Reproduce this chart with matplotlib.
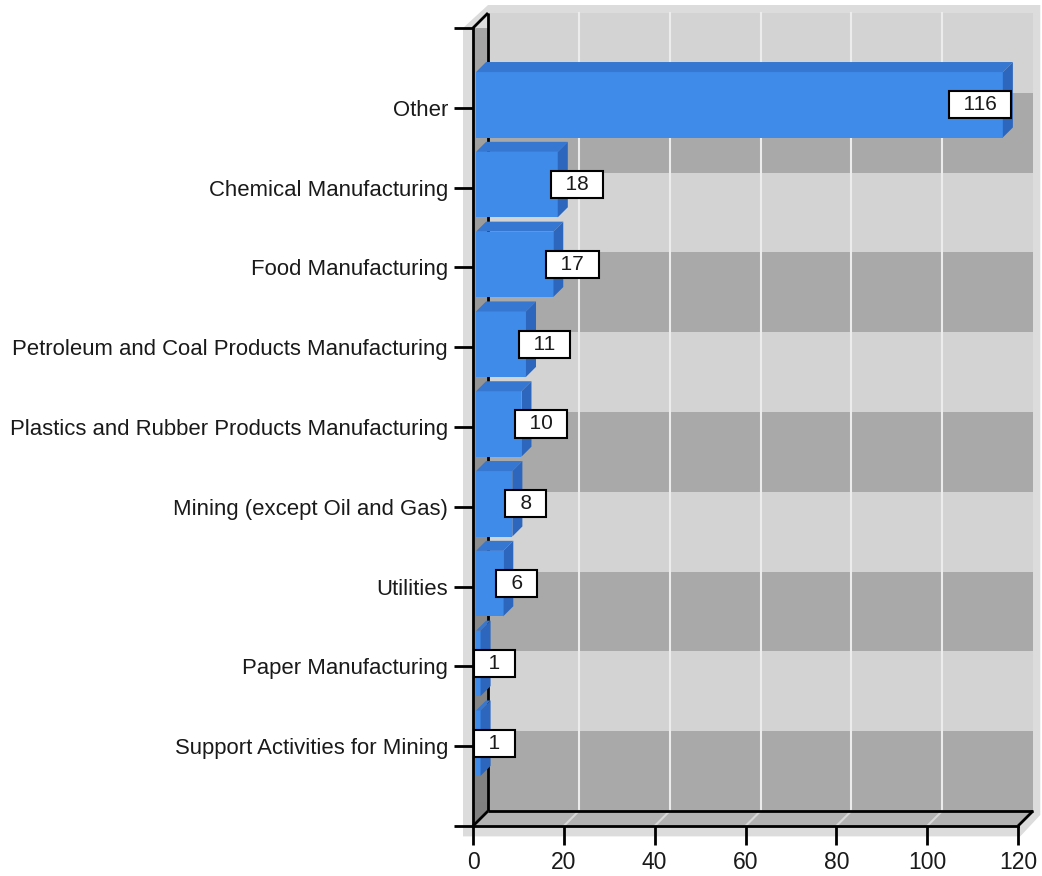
import numpy as np
import matplotlib.pyplot as plt
from matplotlib.colors import LinearSegmentedColormap
from matplotlib.patches import Polygon, Rectangle

categories = ['Support Activities for Mining', 'Paper Manufacturing', 'Utilities',
              'Mining (except Oil and Gas)', 'Plastics and Rubber Products Manufacturing',
              'Petroleum and Coal Products Manufacturing', 'Food Manufacturing',
              'Chemical Manufacturing', 'Other']
values = [1, 1, 6, 8, 10, 11, 17, 18, 116]
xticks = [0, 20, 40, 60, 80, 100, 120]

plt.rcParams['font.family'] = ['Liberation Sans', 'DejaVu Sans']

W, H = 1042, 876
fig = plt.figure(figsize=(W / 100, H / 100), dpi=100)
ax = fig.add_axes([473 / W, 50 / H, 545 / W, 798 / H])
xmax, ymax = 120, len(categories) + 1

# depth of the box, in data units
dx = 15 / (545 / xmax)
dy = 15 / (798 / ymax)

# soft frame behind the box
ax.add_patch(Polygon([(-2.2, -0.13), (-2.2, ymax), (dx, ymax + dy + 0.1),
                      (xmax + dx + 1.6, ymax + dy + 0.1), (xmax + dx + 1.6, dy - 0.05),
                      (xmax + 0.5, -0.13)],
                     closed=True, fc='#dcdcdc', ec='none', zorder=0, clip_on=False))

# back wall with alternating bands
for k in range(ymax):
    col = '#a9a9a9' if k % 2 == 0 else '#d3d3d3'
    ax.add_patch(Rectangle((dx, k + dy), xmax, 1, fc=col, ec='none', zorder=1, clip_on=False))
for t in xticks[1:-1]:
    ax.plot([t + dx, t + dx], [dy, ymax + dy], color='#ececec', lw=1.5, zorder=1.2, clip_on=False)
    ax.plot([t, t + dx], [0, dy], color='#d8d8d8', lw=1.5, zorder=1.6, clip_on=False)

# left wall (shaded top to bottom) and floor
wall = Polygon([(0, 0), (dx, dy), (dx, ymax + dy), (0, ymax)], closed=True,
               fc='none', ec='none', zorder=1.4, clip_on=False)
ax.add_patch(wall)
grad = np.linspace(0, 1, 256).reshape(-1, 1)
im = ax.imshow(grad, cmap=LinearSegmentedColormap.from_list('wall', ['#a6a6a6', '#808080']),
               extent=[0, dx, 0, ymax + dy], origin='upper', aspect='auto',
               zorder=1.4, interpolation='bilinear')
im.set_clip_path(wall)
ax.add_patch(Polygon([(0, 0), (xmax, 0), (xmax + dx, dy), (dx, dy)], closed=True,
                     fc='#b2b2b2', ec='none', zorder=1.4, clip_on=False))

# box edges
edge = dict(color='black', lw=2, zorder=2, clip_on=False, solid_capstyle='butt')
ax.plot([dx, dx], [dy, ymax + dy], **edge)
ax.plot([dx, xmax + dx], [dy, dy], **edge)
ax.plot([0, dx], [ymax, ymax + dy], **edge)
ax.plot([0, dx], [0, dy], **edge)
ax.plot([xmax, xmax + dx], [0, dy], **edge)

# 3d bars
f0, f1, h = 0.2, 0.87, 0.41
ox0, oy0, ox1, oy1 = f0 * dx, f0 * dy, f1 * dx, f1 * dy
for i, v in enumerate(values):
    c = i + 1
    ax.add_patch(Rectangle((ox0, c - h + oy0), v, 2 * h, fc='#3f8bea', ec='none', zorder=3))
    ax.add_patch(Polygon([(ox0, c + h + oy0), (v + ox0, c + h + oy0),
                          (v + ox1, c + h + oy1), (ox1, c + h + oy1)], closed=True,
                         fc='#3677d2', ec='none', zorder=3, clip_on=False))
    ax.add_patch(Polygon([(v + ox0, c - h + oy0), (v + ox1, c - h + oy1),
                          (v + ox1, c + h + oy1), (v + ox0, c + h + oy0)], closed=True,
                         fc='#2d66bd', ec='none', zorder=3, clip_on=False))

    label = '\u2002' + str(v) + '\u2002'
    box = dict(boxstyle='square,pad=0.2', fc='white', ec='black', lw=1.5)
    if v > 100:
        ax.text(xmax - 2.4, c + oy0, label, ha='right', va='center', fontsize=15,
                color='#1a1a1a', bbox=box, zorder=5)
    else:
        ax.text(v + ox0 - 0.6, c + oy0, label, ha='left', va='center', fontsize=15,
                color='#1a1a1a', bbox=box, zorder=5, clip_on=False)

ax.set_xlim(0, xmax)
ax.set_ylim(0, ymax)
for s in ['top', 'right']:
    ax.spines[s].set_visible(False)
for s in ['left', 'bottom']:
    ax.spines[s].set_linewidth(2)
    ax.spines[s].set_zorder(2.5)

ax.set_yticks(range(ymax + 1))
ax.set_yticklabels([''] + categories + [''], fontsize=15.9, color='#1a1a1a')
ax.set_xticks(xticks)
ax.set_xticklabels([str(t) for t in xticks], fontsize=16.5, color='#1a1a1a')
ax.tick_params(length=14, width=2, pad=4)

fig.savefig('out.png', dpi=100)
